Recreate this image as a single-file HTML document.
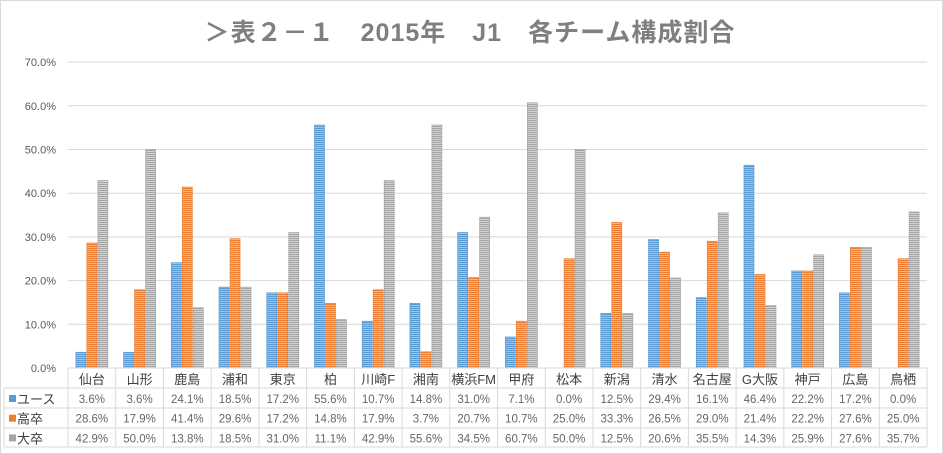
<!DOCTYPE html>
<html><head><meta charset="utf-8"><style>
html,body{margin:0;padding:0;background:#fff}
svg{display:block}
text{font-family:"Liberation Sans","Noto Sans CJK JP",sans-serif}
</style></head><body>
<svg id="c" width="943" height="454" xmlns="http://www.w3.org/2000/svg">
<defs>
<pattern id="pb" width="4" height="2" patternUnits="userSpaceOnUse"><rect width="4" height="2" fill="#9cc3e8"/><rect width="4" height="1" fill="#5b9bd5"/></pattern>
<pattern id="po" width="4" height="2" patternUnits="userSpaceOnUse"><rect width="4" height="2" fill="#f5b48a"/><rect width="4" height="1" fill="#ed7d31"/></pattern>
<pattern id="pg" width="4" height="2" patternUnits="userSpaceOnUse"><rect width="4" height="2" fill="#d2d2d2"/><rect width="4" height="1" fill="#a5a5a5"/></pattern>
</defs>
<rect x="0.5" y="0.5" width="942" height="453" fill="#fff" stroke="#d9d9d9"/>
<text x="470" y="41" text-anchor="middle" font-size="25" font-weight="bold" fill="#7f7f7f" letter-spacing="1">＞表２－１　2015年　J1　各チーム構成割合</text>
<g id="g"></g>
</svg>
<script>
var names=["仙台","山形","鹿島","浦和","東京","柏","川崎F","湘南","横浜FM","甲府","松本","新潟","清水","名古屋","G大阪","神戸","広島","鳥栖"];
var A=[3.6,3.6,24.1,18.5,17.2,55.6,10.7,14.8,31.0,7.1,0.0,12.5,29.4,16.1,46.4,22.2,17.2,0.0];
var B=[28.6,17.9,41.4,29.6,17.2,14.8,17.9,3.7,20.7,10.7,25.0,33.3,26.5,29.0,21.4,22.2,27.6,25.0];
var C=[42.9,50.0,13.8,18.5,31.0,11.1,42.9,55.6,34.5,60.7,50.0,12.5,20.6,35.5,14.3,25.9,27.6,35.7];
var s="",x0=68,x1=927,w=(x1-x0)/18,y0=368,k=4.37;
for(var i=0;i<=7;i++){var y=y0-i*10*k;
 if(i>0)s+='<line x1="'+x0+'" x2="'+x1+'" y1="'+y+'" y2="'+y+'" stroke="#d9d9d9"/>';
 s+='<text x="56" y="'+(y+4)+'" text-anchor="end" font-size="11" fill="#595959">'+(i*10).toFixed(1)+'%</text>';}
function bar(cx,v,p,st){if(v<=0)return "";var h=v*k;return '<rect x="'+cx+'" y="'+(y0-h)+'" width="10" height="'+h+'" fill="url(#'+p+')" stroke="'+st+'" stroke-width="0.7"/>';}
for(var j=0;j<18;j++){var c=x0+w*j+w/2;
 s+=bar(c-16,A[j],"pb","#5b9bd5")+bar(c-5,B[j],"po","#ed7d31")+bar(c+6,C[j],"pg","#a5a5a5");}
var rows=[368,388,408,428,447];
for(var r=0;r<rows.length;r++){s+='<line x1="'+(r==0?x0:4)+'" x2="'+x1+'" y1="'+rows[r]+'" y2="'+rows[r]+'" stroke="#d9d9d9"/>';}
s+='<line x1="4" x2="4" y1="388" y2="447" stroke="#d9d9d9"/>';
for(var j=0;j<=18;j++){var x=x0+w*j;s+='<line x1="'+x+'" x2="'+x+'" y1="368" y2="447" stroke="#d9d9d9"/>';}
var lab=[["ユース","#5b9bd5",A],["高卒","#ed7d31",B],["大卒","#a5a5a5",C]];
for(var j=0;j<18;j++){var c=x0+w*j+w/2;
 s+='<text x="'+c+'" y="384" text-anchor="middle" font-size="13" fill="#404040">'+names[j]+'</text>';
 for(var r=0;r<3;r++)s+='<text x="'+c+'" y="'+(403+r*19.7)+'" text-anchor="middle" font-size="11.5" fill="#666">'+lab[r][2][j].toFixed(1)+'%</text>';}
for(var r=0;r<3;r++){var y=403+r*19.7;
 s+='<rect x="9" y="'+(y-8)+'" width="7" height="7" fill="'+lab[r][1]+'"/>';
 s+='<text x="17" y="'+(y+1)+'" font-size="13" fill="#404040">'+lab[r][0]+'</text>';}
document.getElementById("g").innerHTML=s;
</script>
</body></html>
